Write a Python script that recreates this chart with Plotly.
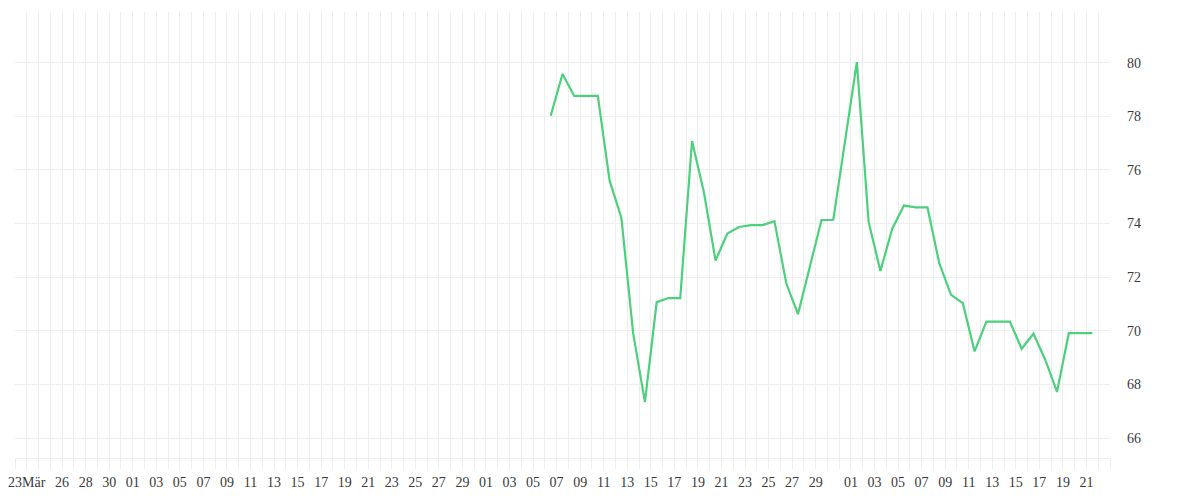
import plotly.graph_objects as go

# ---- data ----
dates = [
    "2023-05-06 12:00", "2023-05-07 12:00", "2023-05-08 12:00", "2023-05-09 12:00",
    "2023-05-10 12:00", "2023-05-11 12:00", "2023-05-12 12:00", "2023-05-13 12:00",
    "2023-05-14 12:00", "2023-05-15 12:00", "2023-05-16 12:00", "2023-05-17 12:00",
    "2023-05-18 12:00", "2023-05-19 12:00", "2023-05-20 12:00", "2023-05-21 12:00",
    "2023-05-22 12:00", "2023-05-23 12:00", "2023-05-24 12:00", "2023-05-25 12:00",
    "2023-05-26 12:00", "2023-05-27 12:00", "2023-05-28 12:00", "2023-05-29 12:00",
    "2023-05-30 12:00", "2023-05-31 12:00", "2023-06-01 12:00", "2023-06-02 12:00",
    "2023-06-03 12:00", "2023-06-04 12:00", "2023-06-05 12:00", "2023-06-06 12:00",
    "2023-06-07 12:00", "2023-06-08 12:00", "2023-06-09 12:00", "2023-06-10 12:00",
    "2023-06-11 12:00", "2023-06-12 12:00", "2023-06-13 12:00", "2023-06-14 12:00",
    "2023-06-15 12:00", "2023-06-16 12:00", "2023-06-17 12:00", "2023-06-18 12:00",
    "2023-06-19 12:00", "2023-06-20 12:00", "2023-06-21 12:00",
]
values = [
    78.02, 79.58, 78.76, 78.76, 78.76, 75.60, 74.22, 69.91,
    67.34, 71.07, 71.22, 71.22, 77.08, 75.19, 72.62, 73.63,
    73.87, 73.94, 73.94, 74.09, 71.78, 70.62, 72.38, 74.13,
    74.14, 77.07, 80.02, 74.06, 72.23, 73.80, 74.67, 74.60,
    74.60, 72.52, 71.34, 71.03, 69.23, 70.34, 70.34, 70.34,
    69.33, 69.89, 68.92, 67.72, 69.91, 69.91, 69.91,
]

tick_dates = [
    "2023-03-23", "2023-03-26", "2023-03-28", "2023-03-30",
    "2023-04-01", "2023-04-03", "2023-04-05", "2023-04-07", "2023-04-09",
    "2023-04-11", "2023-04-13", "2023-04-15", "2023-04-17", "2023-04-19",
    "2023-04-21", "2023-04-23", "2023-04-25", "2023-04-27", "2023-04-29",
    "2023-05-01", "2023-05-03", "2023-05-05", "2023-05-07", "2023-05-09",
    "2023-05-11", "2023-05-13", "2023-05-15", "2023-05-17", "2023-05-19",
    "2023-05-21", "2023-05-23", "2023-05-25", "2023-05-27", "2023-05-29",
    "2023-06-01", "2023-06-03", "2023-06-05", "2023-06-07", "2023-06-09",
    "2023-06-11", "2023-06-13", "2023-06-15", "2023-06-17", "2023-06-19",
    "2023-06-21",
]
tick_labels = [
    "23Mär", "26", "28", "30",
    "01", "03", "05", "07", "09", "11", "13", "15", "17", "19",
    "21", "23", "25", "27", "29",
    "01", "03", "05", "07", "09", "11", "13", "15", "17", "19",
    "21", "23", "25", "27", "29",
    "01", "03", "05", "07", "09", "11", "13", "15", "17", "19", "21",
]
y_ticks = [66, 68, 70, 72, 74, 76, 78, 80]

GRID = "#eeeeee"
FONT = dict(family="Liberation Serif", size=14, color="#3a3a3a")

fig = go.Figure(
    go.Scatter(
        x=dates, y=values, mode="lines",
        line=dict(color="#4cd07d", width=2.2),
        hoverinfo="x+y",
    )
)

# the page body adds an 8px offset, so margins compensate for it
fig.update_layout(
    width=1200, height=500,
    margin=dict(l=7, r=98, t=4, b=50, autoexpand=False),
    paper_bgcolor="white", plot_bgcolor="white",
    showlegend=False,
    font=FONT,
)

fig.update_xaxes(
    type="date",
    automargin=False,
    range=["2023-03-22", "2023-06-23"],
    tickmode="array", tickvals=tick_dates, ticktext=tick_labels,
    ticks="outside", ticklen=10, tickcolor=GRID, tickwidth=1,
    showgrid=True, gridcolor=GRID, gridwidth=1,
    showline=True, linecolor=GRID, linewidth=1,
    minor=dict(dtick=86400000, tick0="2023-03-22", ticks="outside", ticklen=10,
               tickcolor=GRID, tickwidth=1, showgrid=True, gridcolor=GRID, gridwidth=1),
    zeroline=False,
    tickfont=FONT,
    ticklabelstandoff=1,
)

fig.update_yaxes(
    side="right",
    automargin=False,
    range=[65.255, 81.89],
    tickmode="array", tickvals=y_ticks,
    showgrid=True, gridcolor=GRID, gridwidth=1,
    ticks="", showline=False, zeroline=False,
    tickfont=FONT,
    ticklabelstandoff=16,
)

fig.write_html("out.html")
